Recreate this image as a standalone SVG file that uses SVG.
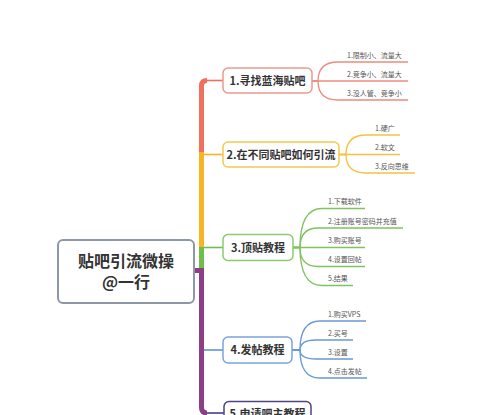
<svg xmlns="http://www.w3.org/2000/svg" width="500" height="415" viewBox="0 0 500 415">
<defs>
<style>
text{font-family:"Noto Sans CJK SC","Noto Sans",sans-serif;}
.root{font-size:16px;font-weight:bold;fill:#333;text-anchor:middle;}
.topic{font-size:11px;font-weight:bold;fill:#333;text-anchor:middle;}
.leaf{font-size:7px;fill:#555;}
.box{fill:#fff;stroke-width:1.5;}
.lf{fill:none;stroke-width:1.3;}
.tr{fill:none;stroke-width:5;}
.th{fill:none;stroke-width:1.6;}
</style>
</defs>
<rect width="500" height="415" fill="#fff"/>
<g id="connectors">
<path class="th" stroke="#F0705F" d="M205 80.5 H223"/>
<path class="tr" stroke="#F0705F" d="M201.5 271 V86 Q201.5 80.5 207 80.5"/>
<path class="tr" stroke="#F8B422" d="M201.5 271 V152"/>
<path class="th" stroke="#F8B422" d="M204 154.5 H223"/>
<path class="tr" stroke="#6DBE4B" d="M201.5 271 V247"/>
<path class="th" stroke="#6DBE4B" d="M204 247.5 H223"/>
<path class="th" stroke="#5E92D8" d="M204 350 H223"/>
<path class="th" stroke="#4B3F7E" d="M205 413 H224"/>
<path class="tr" stroke="#8C3F86" d="M194 270.5 H201.5 V407 Q201.5 413 207 413"/>
<g stroke="#EE8B7E">
<path class="lf" d="M312 81 H318 Q318 62 338 62 H408"/>
<path class="lf" d="M312 81 H408"/>
<path class="lf" d="M312 81 H318 Q318 100 338 100 H408"/>
</g>
<g stroke="#F5C141">
<path class="lf" d="M339 154.5 H346 Q346 135 366 135 H400"/>
<path class="lf" d="M339 154.5 H400"/>
<path class="lf" d="M339 154.5 H346 Q346 173 366 173 H415"/>
</g>
<g stroke="#7DC35E">
<path class="lf" d="M293 247.5 H300 Q300 208.5 322 208.5 H365"/>
<path class="lf" d="M293 247.5 H300 Q300 228 318 228 H403"/>
<path class="lf" d="M293 247.5 H365"/>
<path class="lf" d="M293 247.5 H300 Q300 266.5 318 266.5 H365"/>
<path class="lf" d="M293 247.5 H300 Q300 285.5 322 285.5 H353"/>
</g>
<g stroke="#6A98DA">
<path class="lf" d="M292 350 H300 Q300 321 320 321 H366"/>
<path class="lf" d="M292 350 H300 Q300 340 316 340 H353"/>
<path class="lf" d="M292 350 H300 Q300 359 316 359 H353"/>
<path class="lf" d="M292 350 H300 Q300 378 320 378 H367"/>
</g>
</g>
<g id="root">
<rect x="58" y="240" width="136" height="63" rx="5" fill="#fff" stroke="#8D97A5" stroke-width="2"/>
<text class="root" x="126" y="266.5">贴吧引流微操</text>
<text class="root" x="126" y="288">@一行</text>
</g>
<g id="topic1">
<rect class="box" x="223" y="68" width="89" height="25" rx="5" stroke="#E99A90"/>
<text class="topic" x="267.5" y="84.5">1.寻找蓝海贴吧</text>
</g>
<g id="topic2">
<rect class="box" x="223" y="142" width="116" height="25" rx="5" stroke="#F5C851"/>
<text class="topic" x="281" y="158.5">2.在不同贴吧如何引流</text>
</g>
<g id="topic3">
<rect class="box" x="223" y="234.5" width="70" height="26" rx="5" stroke="#8ACB73"/>
<text class="topic" x="258" y="251.5">3.顶贴教程</text>
</g>
<g id="topic4">
<rect class="box" x="223" y="337" width="69" height="26" rx="5" stroke="#7BA3DD"/>
<text class="topic" x="257.5" y="354">4.发帖教程</text>
</g>
<g id="topic5">
<rect class="box" x="224" y="401.5" width="87" height="25" rx="5" stroke="#4F4584"/>
<text class="topic" x="267.5" y="418">5.申请吧主教程</text>
</g>
<g id="leaves1">
<text class="leaf" x="347" y="57.5">1.限制小、流量大</text>
<text class="leaf" x="347" y="76.5">2.竞争小、流量大</text>
<text class="leaf" x="347" y="95.5">3.没人管、竞争小</text>
</g>
<g id="leaves2">
<text class="leaf" x="375" y="130.5">1.硬广</text>
<text class="leaf" x="375" y="150">2.软文</text>
<text class="leaf" x="375" y="168.5">3.反向思维</text>
</g>
<g id="leaves3">
<text class="leaf" x="328" y="204">1.下载软件</text>
<text class="leaf" x="328" y="223.5">2.注册账号密码并充值</text>
<text class="leaf" x="328" y="243">3.购买账号</text>
<text class="leaf" x="328" y="262">4.设置回帖</text>
<text class="leaf" x="328" y="281">5.结果</text>
</g>
<g id="leaves4">
<text class="leaf" x="328" y="316.5">1.购买VPS</text>
<text class="leaf" x="328" y="335.5">2.买号</text>
<text class="leaf" x="328" y="354.5">3.设置</text>
<text class="leaf" x="328" y="373.5">4.点击发帖</text>
</g>
</svg>
